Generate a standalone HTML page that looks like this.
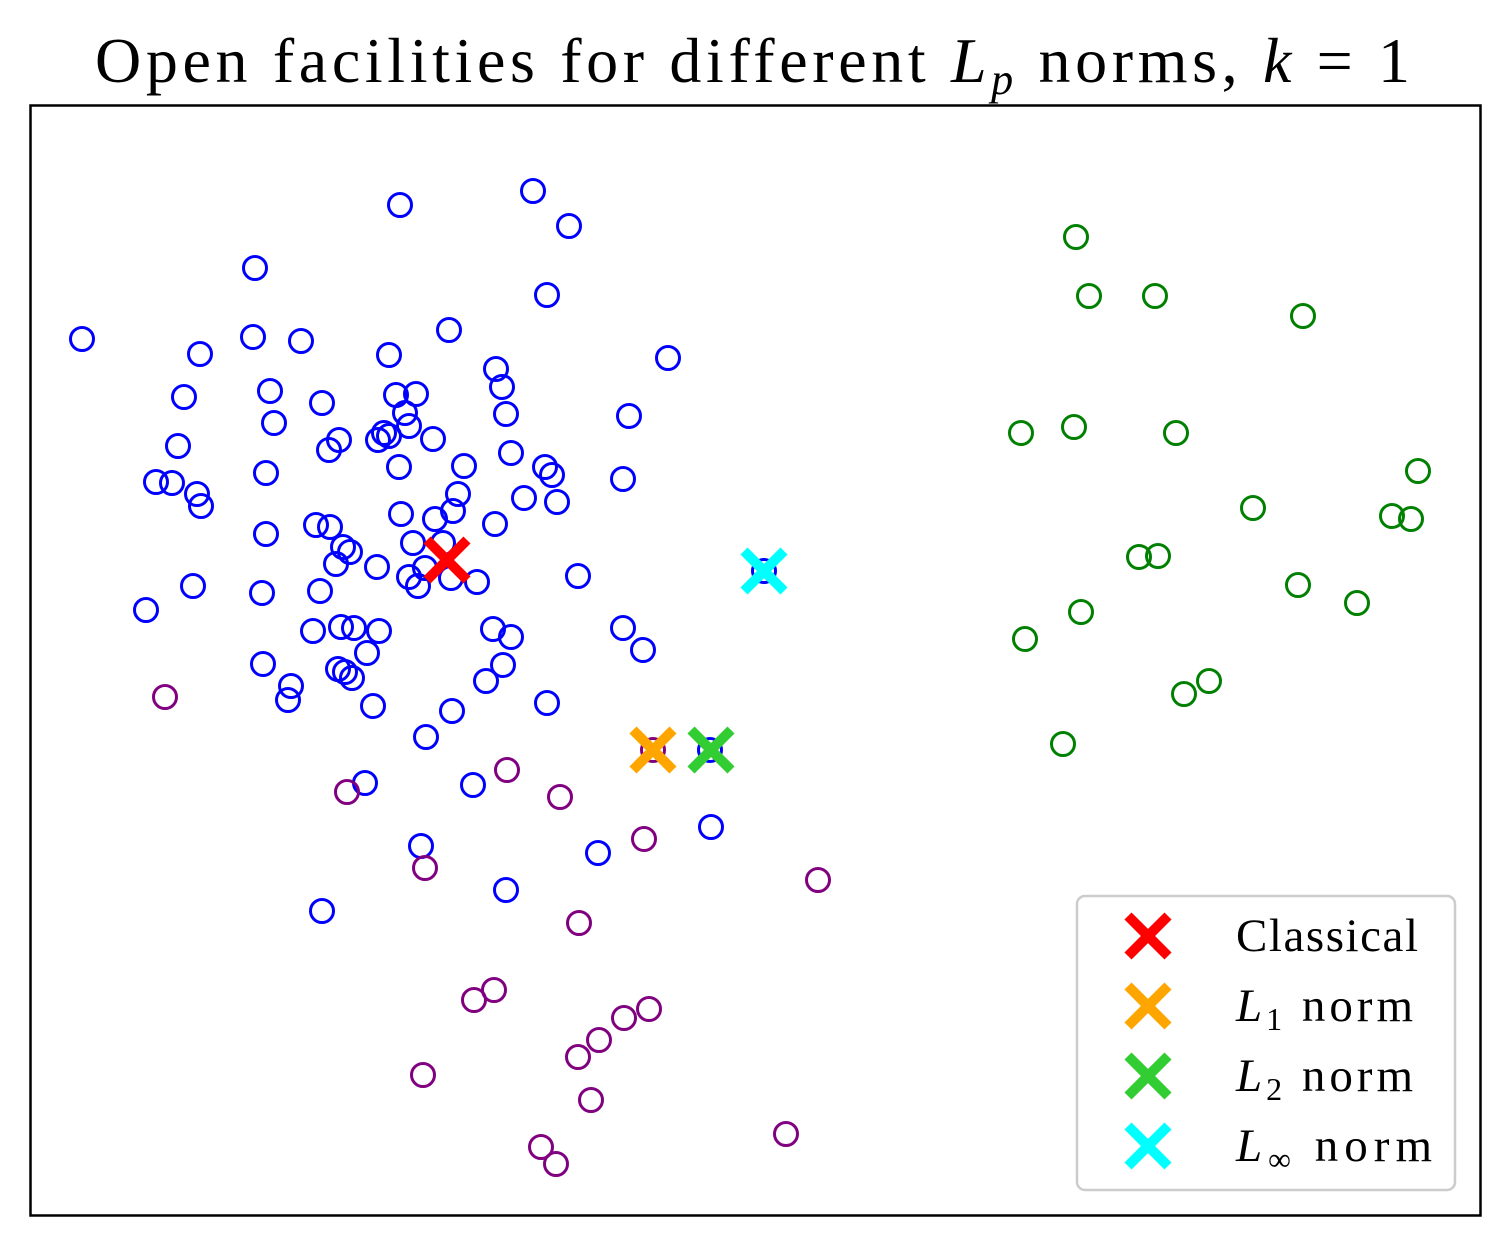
<!DOCTYPE html>
<html><head><meta charset="utf-8"><style>
body{margin:0;background:#fff}
svg text{font-family:"Liberation Serif",serif}
</style></head><body>
<svg id="c" width="1509" height="1245" viewBox="0 0 1509 1245">
<text x="95" y="82" font-size="64" textLength="1315" lengthAdjust="spacing">Open facilities for different <tspan font-style="italic">L</tspan><tspan font-style="italic" font-size="44" dy="12">p</tspan><tspan dy="-12"> norms, </tspan><tspan font-style="italic">k</tspan> = 1</text>
<rect x="30.5" y="105.5" width="1450" height="1110" fill="none" stroke="#000" stroke-width="2.5"/>
<g id="pts"></g>
<g id="fac"></g>
<g id="legend">
<rect x="1077" y="896" width="378" height="294" rx="8" fill="#fff" stroke="#ccc" stroke-width="2.5"/>
</g>
</svg>
<script>
// data coordinates (x: 0..1450 left to right, y: 0..1110 bottom to top)
const blueX=[52,370,503,539,225,517,223,271,170,359,419,638,466,472,240,154,366,386,292,476,375,599,244,379,148,309,299,348,359,354,403,481,434,369,515,522,236,126,142,167,171,428,494,527,593,371,423,405,465,236,286,300,383,313,320,413,306,347,379,388,395,421,447,548,163,232,290,116,283,311,324,349,337,463,481,593,613,233,308,315,322,473,456,261,258,343,422,517,396,335,443,681,568,391,476,292,680,734];
const blueY=[876,1010,1024,989,947,920,878,874,861,860,885,857,846,828,824,818,820,821,812,801,802,799,792,789,769,775,765,775,779,782,776,762,749,748,748,740,742,733,732,721,709,721,717,713,736,701,704,696,691,681,690,688,672,668,663,672,651,648,638,629,647,637,633,639,629,622,624,605,584,588,587,584,562,586,578,587,565,551,546,543,537,550,534,529,515,509,504,512,478,432,430,388,362,369,325,304,465,644];
const purpleX=[135,317,477,530,395,614,788,549,444,464,594,619,569,548,393,561,511,526,756,623];
const purpleY=[518,423,445,418,347,376,335,292,215,225,197,206,175,158,140,115,68,51,81,465];
const greenX=[1046,1059,1125,1273,991,1044,1146,1388,1223,1362,1381,1109,1128,1268,1327,1051,995,1179,1154,1033];
const greenY=[978,919,919,899,782,788,782,744,707,699,696,658,659,630,612,603,576,534,521,471];
const facNames=["Classical","L1 norm","L2 norm","L∞ norm"];
const facX=[417,623,681,734];
const facY=[655,465,465,644];
const facColors=["#ff0000","#ffa500","#32cd32","#00ffff"];

const sx=v=>30+v, sy=v=>1215-v;
const NS="http://www.w3.org/2000/svg";
const pts=document.getElementById('pts');
function circles(xs,ys,col,name){
  xs.forEach((x,i)=>{
    const c=document.createElementNS(NS,'circle');
    c.setAttribute('cx',sx(x));c.setAttribute('cy',sy(ys[i]));c.setAttribute('r',11.5);
    c.setAttribute('fill','none');c.setAttribute('stroke',col);c.setAttribute('stroke-width',3);
    
    
    pts.appendChild(c);
  });
}
circles(blueX,blueY,'#0000ff','client-point-blue');
circles(purpleX,purpleY,'#800080','client-point-purple');
circles(greenX,greenY,'#008000','client-point-green');
function cross(parent,cx,cy,col,h){
  const p=document.createElementNS(NS,'path');
  p.setAttribute('d',`M${cx-h},${cy-h}L${cx+h},${cy+h}M${cx-h},${cy+h}L${cx+h},${cy-h}`);
  p.setAttribute('stroke',col);p.setAttribute('stroke-width',10);p.setAttribute('fill','none');
  parent.appendChild(p);return p;
}
const fac=document.getElementById('fac');
facX.forEach((x,i)=>{
  const p=cross(fac,sx(x),sy(facY[i]),facColors[i],20);
  
  
});
const lg=document.getElementById('legend');
const labels=['Classical','<tspan font-style="italic">L</tspan><tspan font-size="32" dy="9">1</tspan><tspan dy="-9"> norm</tspan>','<tspan font-style="italic">L</tspan><tspan font-size="32" dy="9">2</tspan><tspan dy="-9"> norm</tspan>','<tspan font-style="italic">L</tspan><tspan font-size="32" dy="9">∞</tspan><tspan dy="-9"> norm</tspan>'];
const lens=[182,177,177,196];
facNames.forEach((n,i)=>{
  const y=936+i*70;
  const p=cross(lg,1148,y,facColors[i],20);
  
  
  const t=document.createElementNS(NS,'text');
  t.setAttribute('x',1236);t.setAttribute('y',y+15);t.setAttribute('font-size',47);
  t.setAttribute('textLength',lens[i]);t.setAttribute('lengthAdjust','spacing');
  t.innerHTML=labels[i];
  
  
  lg.appendChild(t);
});
</script>
</body></html>
